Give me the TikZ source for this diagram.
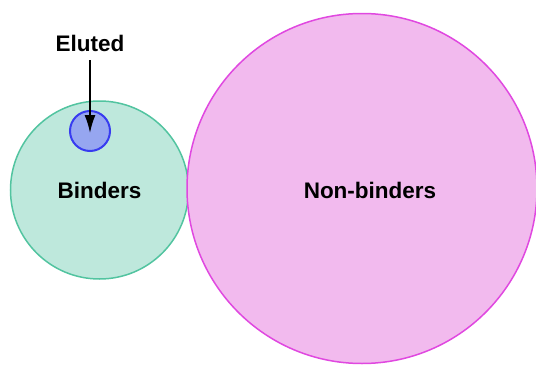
\documentclass[tikz,border=0pt]{standalone}
\usepackage{fontspec}
\setmainfont{Liberation Sans}
\usetikzlibrary{arrows.meta}
\definecolor{bindfill}{RGB}{190,232,220}
\definecolor{bindline}{RGB}{82,196,160}
\definecolor{nonfill}{RGB}{242,186,238}
\definecolor{nonline}{RGB}{224,72,224}
\definecolor{elufill}{RGB}{150,166,240}
\definecolor{eluline}{RGB}{56,60,240}
\tikzset{
  setcircle/.style={circle, inner sep=0pt, line width=1.5pt},
  setlabel/.style={font=\fontsize{22.5}{26}\selectfont\bfseries, text=black, inner sep=0pt},
  pointer/.style={-{Latex[length=18pt,width=11pt]}, line width=1.7pt, black}
}
\begin{document}
\begin{tikzpicture}[x=1pt, y=-1pt]
  \useasboundingbox (0,0) rectangle (536,367);
  % sets drawn as circles
  \node[setcircle, draw=bindline, fill=bindfill, minimum size=178pt] (binders) at (99.5,190) {};
  \node[setcircle, draw=nonline, fill=nonfill, minimum size=350pt] (nonbinders) at (362,188.5) {};
  \node[setcircle, draw=eluline, fill=elufill, line width=2pt, minimum size=40pt] (eluted) at (90,131) {};
  % labels
  \node[setlabel] (bindlabel) at (99.5,190) {Binders};
  \node[setlabel] (nonlabel) at (370,190) {Non-binders};
  \node[setlabel] (elulabel) at (90,43) {Eluted};
  % pointer into the eluted subset
  \coordinate (elutip) at (90,133);
  \draw[pointer] (elulabel.south) ++(0,9) -- (elutip);
\end{tikzpicture}
\end{document}
